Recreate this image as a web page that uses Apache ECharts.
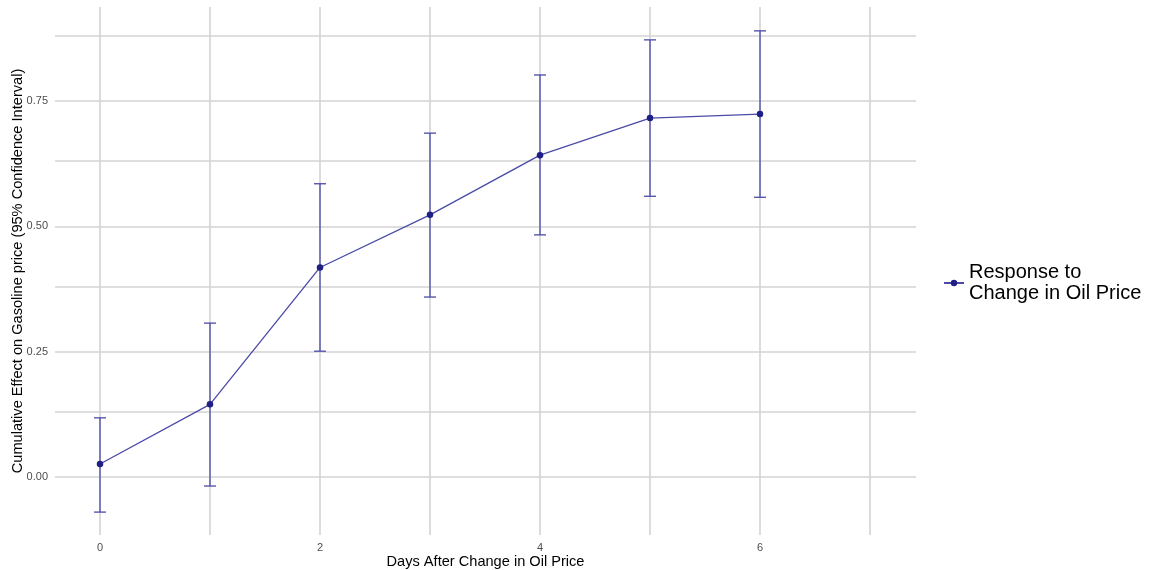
<!DOCTYPE html>
<html>
<head>
<meta charset="utf-8">
<script src="https://cdn.jsdelivr.net/npm/echarts@6/dist/echarts.min.js"></script>
<style>html,body{margin:0;padding:0;background:#fff;}#c{width:1149px;height:570px;}</style>
</head>
<body>
<div id="c"></div>
<script>
const days = [0, 1, 2, 3, 4, 5, 6];
const effect = [0.026, 0.145, 0.418, 0.523, 0.642, 0.716, 0.724];
const lower = [-0.070, -0.018, 0.251, 0.359, 0.483, 0.560, 0.558];
const upper = [0.118, 0.307, 0.585, 0.686, 0.802, 0.872, 0.890];
const xTicks = [0, 2, 4, 6];
const yTicks = [0, 0.25, 0.5, 0.75];
const xGrid = [0, 1, 2, 3, 4, 5, 6, 7];
const yGrid = [0, 0.125, 0.25, 0.375, 0.5, 0.625, 0.75, 0.875];

const FONT = 'Liberation Sans, Arial, sans-serif';
const gridColor = '#d3d3d3';
const lineColor = '#4a4aa8';
const pointColor = '#1f1f86';

const chart = echarts.init(document.getElementById('c'));
chart.setOption({
  animation: false,
  backgroundColor: '#fff',
  grid: {left: 55, right: 233, top: 7, bottom: 35, containLabel: false, outerBoundsMode: 'none'},
  xAxis: {
    type: 'value', min: -0.409, max: 7.418,
    name: 'Days After Change in Oil Price', nameLocation: 'middle', nameGap: 19, nameMoveOverlap: false,
    nameTextStyle: {fontFamily: FONT, fontSize: 14.6, color: '#000'},
    axisLine: {show: false}, axisTick: {show: false}, splitLine: {show: false},
    axisLabel: {customValues: xTicks, fontFamily: FONT, fontSize: 11, color: '#4d4d4d', margin: 7}
  },
  yAxis: {
    type: 'value', min: -0.1157, max: 0.9376,
    name: 'Cumulative Effect on Gasoline price (95% Confidence Interval)', nameLocation: 'middle', nameGap: 30, nameMoveOverlap: false,
    nameTextStyle: {fontFamily: FONT, fontSize: 14.6, color: '#000'},
    axisLine: {show: false}, axisTick: {show: false}, splitLine: {show: false},
    axisLabel: {customValues: yTicks, formatter: v => v.toFixed(2), fontFamily: FONT, fontSize: 11, color: '#4d4d4d', margin: 7}
  },
  legend: {
    orient: 'vertical', left: 938, top: 257,
    itemWidth: 20, itemHeight: 8, itemGap: 0,
    textStyle: {fontFamily: FONT, fontSize: 20, color: '#000', lineHeight: 21},
    data: [{name: 'Response to\nChange in Oil Price'}]
  },
  series: [
    {
      type: 'line', name: 'grid', silent: true, data: [], z: 0,
      markLine: {
        silent: true, symbol: 'none', label: {show: false}, z: 0,
        lineStyle: {color: gridColor, width: 1.6, type: 'solid'},
        data: xGrid.map(v => ({xAxis: v})).concat(yGrid.map(v => ({yAxis: v})))
      }
    },
    {
      type: 'custom', name: 'ci', silent: true, z: 5,
      data: days.map((d, i) => [d, lower[i], upper[i]]),
      renderItem: function (params, api) {
        const x = api.value(0);
        const lo = api.coord([x, api.value(1)]);
        const hi = api.coord([x, api.value(2)]);
        const hw = 6;
        const st = {stroke: lineColor, lineWidth: 1.3, fill: null};
        return {type: 'group', children: [
          {type: 'line', shape: {x1: lo[0], y1: lo[1], x2: hi[0], y2: hi[1]}, style: st},
          {type: 'line', shape: {x1: lo[0]-hw, y1: lo[1], x2: lo[0]+hw, y2: lo[1]}, style: st},
          {type: 'line', shape: {x1: hi[0]-hw, y1: hi[1], x2: hi[0]+hw, y2: hi[1]}, style: st}
        ]};
      }
    },
    {
      type: 'line', name: 'Response to\nChange in Oil Price', z: 6,
      data: days.map((d, i) => [d, effect[i]]),
      symbol: 'circle', symbolSize: 6.5, showSymbol: true,
      lineStyle: {color: lineColor, width: 1.3},
      itemStyle: {color: pointColor, borderWidth: 0}
    }
  ]
});
</script>
</body>
</html>
